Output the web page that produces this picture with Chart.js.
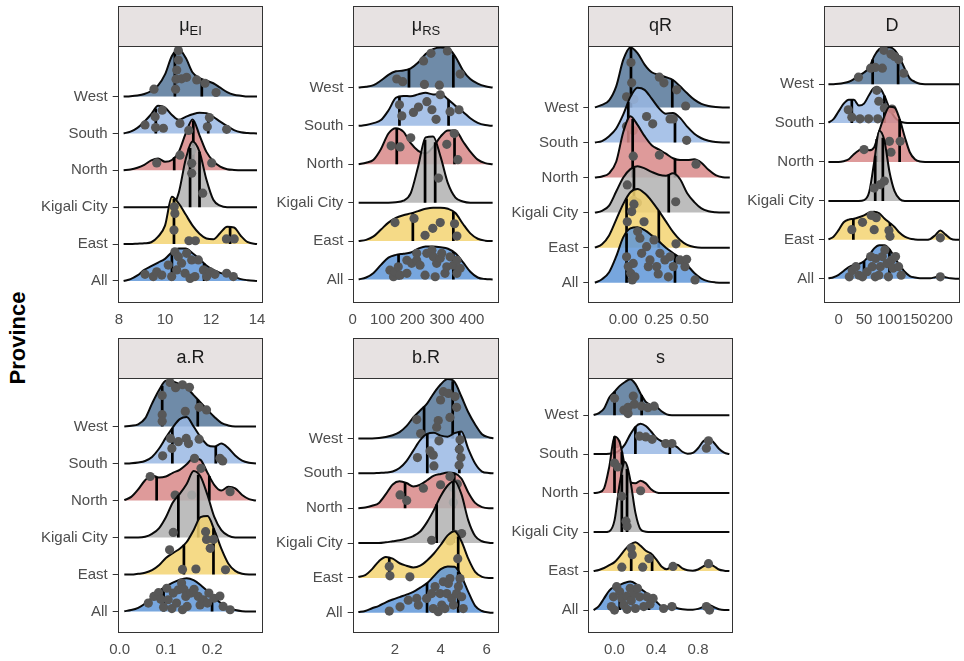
<!DOCTYPE html>
<html>
<head>
<meta charset="utf-8">
<script src="https://cdn.jsdelivr.net/npm/chart.js@4.4.0/dist/chart.umd.min.js"></script>
<style>
  body { margin: 0; background: #fff; width: 964px; height: 661px; overflow: hidden; position: relative; font-family: "Liberation Sans", Arial, sans-serif; }
  canvas { position: absolute; left: 0; top: 0; }
  #ylab { position: absolute; left: 18px; top: 338px; transform: translate(-50%, -50%) rotate(-90deg); font-weight: bold; font-size: 22px; color: #000; white-space: nowrap; }
</style>
</head>
<body>
<div id="ylab">Province</div>
<script>
// rows from bottom to top
const provinces = ['All', 'East', 'Kigali City', 'North', 'South', 'West']

// ---- mu_EI ----
const muEI_grid = [8.2, 8.5, 8.8, 9.1, 9.4, 9.7, 10.0, 10.3, 10.6, 10.9, 11.2, 11.5, 11.8, 12.1, 12.4, 12.7, 13.0, 13.3, 13.6, 14.0]
const muEI_dens = {
  'West':        [0, 0.01, 0.03, 0.07, 0.15, 0.3, 0.6, 1.1, 1.28, 1.05, 0.65, 0.5, 0.43, 0.36, 0.24, 0.12, 0.05, 0.02, 0, 0],
  'South':       [0, 0.05, 0.15, 0.32, 0.52, 0.75, 0.7, 0.5, 0.37, 0.45, 0.52, 0.56, 0.55, 0.45, 0.32, 0.2, 0.09, 0.03, 0.01, 0],
  'North':       [0, 0.02, 0.07, 0.15, 0.27, 0.32, 0.23, 0.28, 0.5, 1.0, 1.38, 0.95, 0.5, 0.25, 0.1, 0.03, 0.01, 0, 0, 0],
  'Kigali City': [0, 0, 0, 0, 0, 0, 0, 0.02, 0.4, 1.3, 1.78, 1.5, 0.75, 0.2, 0.04, 0, 0, 0, 0, 0],
  'East':        [0, 0, 0.01, 0.02, 0.05, 0.2, 0.5, 1.28, 1.1, 0.8, 0.5, 0.28, 0.15, 0.13, 0.3, 0.47, 0.45, 0.22, 0.05, 0],
  'All':         [0, 0.05, 0.15, 0.3, 0.4, 0.5, 0.6, 0.78, 0.88, 0.88, 0.75, 0.6, 0.42, 0.3, 0.22, 0.18, 0.12, 0.05, 0.02, 0],
}
const muEI_quant = {
  'West': [10.43, 11.6], 'South': [9.6, 11.88], 'North': [10.4, 11.23],
  'Kigali City': [11.09, 11.5], 'East': [10.39, 12.83], 'All': [10.3, 11.7],
}
const muEI_pts = {
  'West': [[9.52, 0.2], [10.46, 0.2], [10.48, 0.47], [10.51, 0.72], [10.58, 0.99], [10.58, 1.25], [10.72, 0.48], [10.94, 0.52], [11.38, 0.45], [11.74, 0.36], [12.22, 0.11]],
  'South': [[9.13, 0.23], [9.57, 0.45], [9.59, 0.16], [9.88, 0.63], [9.93, 0.14], [10.65, 0.27], [11.84, 0.18], [11.93, 0.43], [12.68, 0.11]],
  'North': [[9.64, 0.2], [10.65, 0.41], [11.03, 1.08], [11.16, 0.54], [12.03, 0.2]],
  'Kigali City': [[11.16, 1.19], [11.16, 0.92], [11.64, 0.38]],
  'East': [[10.4, 1.01], [10.43, 0.83], [10.39, 0.38], [11.04, 0.09], [11.32, 0.09], [12.67, 0.14], [13.01, 0.14]],
  'All': [[9.13, 0.18], [9.49, 0.12], [9.64, 0.25], [9.86, 0.16], [10.14, 0.43], [10.29, 0.12], [10.43, 0.79], [10.51, 0.3], [10.58, 0.66], [10.72, 0.48], [10.87, 0.21], [10.94, 0.75], [11.09, 0.07], [11.16, 0.57], [11.3, 0.12], [11.45, 0.57], [11.67, 0.3], [11.81, 0.12], [11.96, 0.25], [12.17, 0.18], [12.68, 0.21], [12.97, 0.12]],
}
const muEI_xticks = [8, 10, 12, 14]

// ---- mu_RS ----
const muRS_grid = [20, 45, 70, 95, 120, 145, 170, 195, 220, 245, 270, 295, 320, 345, 370, 395, 420, 445, 470]
const muRS_dens = {
  'West':        [0, 0.02, 0.06, 0.18, 0.33, 0.42, 0.44, 0.5, 0.65, 0.87, 1.0, 1.04, 1.02, 0.8, 0.45, 0.22, 0.1, 0.03, 0],
  'South':       [0, 0.02, 0.07, 0.15, 0.4, 0.73, 0.78, 0.77, 0.82, 0.86, 0.82, 0.83, 0.69, 0.52, 0.37, 0.2, 0.08, 0.02, 0],
  'North':       [0, 0.04, 0.12, 0.4, 0.8, 0.94, 0.85, 0.55, 0.35, 0.28, 0.45, 0.72, 0.88, 0.88, 0.6, 0.33, 0.12, 0.03, 0],
  'Kigali City': [0, 0, 0, 0, 0, 0.01, 0.05, 0.25, 0.95, 1.7, 1.72, 1.2, 0.5, 0.13, 0.03, 0, 0, 0, 0],
  'East':        [0, 0.03, 0.12, 0.3, 0.48, 0.6, 0.67, 0.72, 0.78, 0.84, 0.87, 0.87, 0.84, 0.73, 0.45, 0.2, 0.06, 0.01, 0],
  'All':         [0, 0.05, 0.17, 0.38, 0.57, 0.64, 0.67, 0.7, 0.8, 0.86, 0.86, 0.84, 0.8, 0.68, 0.45, 0.2, 0.05, 0.01, 0],
}
const muRS_quant = {
  'West': [189, 338], 'South': [157, 322], 'North': [148, 342],
  'Kigali City': [243, 277], 'East': [202, 338], 'All': [154, 338],
}
const muRS_pts = {
  'West': [[148, 0.22], [168, 0.15], [238, 0.69], [263, 0.89], [318, 0.95], [361, 0.35], [241, 0.08], [291, 0.06]],
  'South': [[157, 0.55], [165, 0.26], [204, 0.35], [221, 0.49], [249, 0.63], [266, 0.42], [280, 0.17], [294, 0.81], [327, 0.37], [357, 0.42]],
  'North': [[129, 0.48], [159, 0.45], [195, 0.69], [316, 0.52], [341, 0.8], [353, 0.12]],
  'Kigali City': [[288, 0.64]],
  'East': [[142, 0.48], [206, 0.59], [243, 0.15], [269, 0.33], [294, 0.48], [342, 0.45], [350, 0.13]],
  'All': [[125, 0.24], [137, 0.07], [142, 0.2], [153, 0.33], [159, 0.11], [182, 0.5], [182, 0.16], [198, 0.42], [215, 0.68], [215, 0.5], [226, 0.37], [243, 0.11], [249, 0.68], [266, 0.76], [271, 0.59], [277, 0.07], [282, 0.42], [294, 0.55], [299, 0.68], [310, 0.16], [316, 0.33], [327, 0.59], [338, 0.37], [350, 0.5], [350, 0.16], [361, 0.29]],
}
const muRS_xticks = [0, 100, 200, 300, 400]

// ---- qR ----
const qR_grid = [-0.2, -0.15, -0.1, -0.05, 0, 0.05, 0.1, 0.15, 0.2, 0.25, 0.3, 0.35, 0.4, 0.45, 0.5, 0.55, 0.6, 0.65, 0.7, 0.75]
const qR_dens = {
  'West':        [0, 0.07, 0.2, 0.6, 1.36, 1.71, 1.55, 1.22, 1.0, 0.93, 0.86, 0.78, 0.6, 0.4, 0.22, 0.1, 0.04, 0.01, 0, 0],
  'South':       [0, 0.04, 0.18, 0.4, 0.8, 1.3, 1.56, 1.5, 1.25, 0.98, 0.82, 0.84, 0.7, 0.45, 0.25, 0.12, 0.05, 0.01, 0, 0],
  'North':       [0, 0.03, 0.12, 0.45, 1.3, 1.75, 1.5, 1.18, 0.92, 0.8, 0.68, 0.55, 0.5, 0.5, 0.52, 0.42, 0.22, 0.07, 0.01, 0],
  'Kigali City': [0, 0.05, 0.2, 0.6, 1.0, 1.24, 1.32, 1.26, 1.16, 1.08, 1.05, 1.12, 0.95, 0.55, 0.3, 0.12, 0.04, 0.01, 0, 0],
  'East':        [0, 0.1, 0.35, 0.8, 1.25, 1.58, 1.67, 1.55, 1.33, 1.05, 0.75, 0.45, 0.22, 0.08, 0.02, 0, 0, 0, 0, 0],
  'All':         [0, 0.1, 0.3, 0.75, 1.3, 1.55, 1.58, 1.5, 1.35, 1.18, 1.0, 0.85, 0.7, 0.5, 0.28, 0.12, 0.04, 0.01, 0, 0],
}
const qR_quant = {
  'West': [0.054, 0.345], 'South': [0.035, 0.364], 'North': [0.066, 0.364],
  'Kigali City': [0.075, 0.32], 'East': [0.023, 0.25], 'All': [0.023, 0.364],
}
const qR_pts = {
  'West': [[0.054, 1.28], [0.059, 0.7], [0.023, 0.3], [0.075, 0.23], [0.254, 0.86], [0.286, 0.7], [0.376, 0.5], [0.439, 0.04]],
  'South': [[0.023, 0.46], [0.07, 0.34], [0.164, 0.74], [0.207, 0.53], [0.329, 0.67], [0.352, 0.67], [0.446, 0.06]],
  'North': [[0.07, 0.61], [0.254, 0.64], [0.512, 0.38]],
  'Kigali City': [[0.028, 0.79], [0.07, 0.35], [0.099, 0.28], [0.369, 0.31]],
  'East': [[0.075, 1.24], [0.059, 1.03], [0.028, 0.74], [0.146, 0.74], [0.371, 0.11]],
  'All': [[0.023, 0.74], [0.035, 0.46], [0.052, 0.27], [0.063, 0.08], [0.07, 0.55], [0.082, 0.17], [0.101, 1.46], [0.117, 1.27], [0.129, 0.84], [0.164, 1.03], [0.176, 0.46], [0.188, 0.65], [0.216, 1.22], [0.235, 0.46], [0.246, 0.25], [0.258, 0.84], [0.293, 0.65], [0.317, 0.17], [0.329, 0.74], [0.352, 0.46], [0.399, 0.65], [0.434, 0.46], [0.446, 0.67], [0.505, 0.08]],
}
const qR_xticks = [0, 0.25, 0.5]

// ---- D ----
const D_grid = [-20, -10, 0, 10, 20, 30, 40, 50, 60, 70, 80, 90, 100, 110, 120, 130, 140, 150, 160, 170, 180, 190, 200, 210, 220, 230, 240]
const D_dens = {
  'West':        [0, 0, 0.01, 0.03, 0.06, 0.13, 0.22, 0.3, 0.42, 0.72, 0.9, 0.94, 0.95, 0.88, 0.68, 0.4, 0.15, 0.06, 0.01, 0, 0, 0, 0, 0, 0, 0, 0],
  'South':       [0.01, 0.1, 0.3, 0.5, 0.6, 0.6, 0.45, 0.5, 0.72, 0.9, 0.9, 0.7, 0.38, 0.15, 0.04, 0.01, 0, 0, 0, 0, 0, 0, 0, 0, 0, 0, 0],
  'North':       [0, 0, 0, 0.02, 0.07, 0.2, 0.3, 0.36, 0.3, 0.38, 0.8, 1.18, 1.42, 1.4, 1.1, 0.65, 0.25, 0.07, 0.01, 0, 0, 0, 0, 0, 0, 0, 0],
  'Kigali City': [0, 0, 0, 0, 0, 0, 0, 0.02, 0.22, 1.0, 1.8, 1.55, 0.75, 0.25, 0.05, 0, 0, 0, 0, 0, 0, 0, 0, 0, 0, 0, 0],
  'East':        [0.01, 0.08, 0.25, 0.45, 0.52, 0.54, 0.58, 0.63, 0.7, 0.72, 0.68, 0.55, 0.44, 0.33, 0.18, 0.08, 0.03, 0.01, 0, 0, 0.02, 0.12, 0.24, 0.14, 0.03, 0, 0],
  'All':         [0.01, 0.04, 0.1, 0.2, 0.3, 0.35, 0.38, 0.45, 0.6, 0.78, 0.86, 0.86, 0.76, 0.55, 0.35, 0.18, 0.07, 0.03, 0.01, 0.01, 0.01, 0.04, 0.07, 0.04, 0.01, 0, 0],
}
const D_quant = {
  'West': [67, 117], 'South': [26, 90], 'North': [75, 120],
  'Kigali City': [72, 87], 'East': [29, 101], 'All': [50, 100],
}
const D_pts = {
  'West': [[39, 0.18], [63, 0.41], [72, 0.43], [86, 0.41], [89, 0.87], [103, 0.77], [110, 0.71], [118, 0.63], [128, 0.28]],
  'South': [[19, 0.34], [26, 0.15], [42, 0.11], [59, 0.11], [77, 0.11], [75, 0.84], [79, 0.56], [90, 0.39], [105, 0.36]],
  'North': [[50, 0.32], [100, 0.53], [103, 0.25], [121, 0.53]],
  'Kigali City': [[70, 0.33], [82, 0.42], [90, 0.51]],
  'East': [[26, 0.26], [47, 0.45], [64, 0.63], [74, 0.57], [70, 0.26], [99, 0.24], [101, 0.09], [200, 0.05]],
  'All': [[21, 0.05], [27, 0.21], [34, 0.31], [40, 0.09], [47, 0.05], [56, 0.18], [63, 0.57], [66, 0.31], [72, 0.05], [73, 0.52], [79, 0.09], [82, 0.31], [86, 0.57], [91, 0.74], [95, 0.39], [98, 0.05], [104, 0.48], [107, 0.27], [112, 0.57], [118, 0.31], [123, 0.09], [200, 0.05]],
}
const D_xticks = [0, 50, 100, 150, 200]

// ---- a.R ----
const aR_grid = [0.01, 0.025, 0.04, 0.055, 0.07, 0.085, 0.1, 0.115, 0.13, 0.145, 0.16, 0.175, 0.19, 0.205, 0.22, 0.235, 0.25, 0.265, 0.28, 0.295]
const aR_dens = {
  'West':        [0, 0.02, 0.06, 0.22, 0.62, 0.98, 1.24, 1.22, 1.14, 1.05, 0.85, 0.65, 0.45, 0.26, 0.1, 0.03, 0, 0, 0, 0],
  'South':       [0, 0.01, 0.03, 0.07, 0.18, 0.4, 0.7, 0.98, 1.2, 1.26, 1.0, 0.72, 0.5, 0.46, 0.54, 0.42, 0.22, 0.08, 0.02, 0],
  'North':       [0.01, 0.1, 0.3, 0.55, 0.68, 0.62, 0.65, 0.75, 0.83, 0.98, 1.15, 1.1, 0.75, 0.42, 0.27, 0.37, 0.33, 0.15, 0.04, 0],
  'Kigali City': [0, 0, 0, 0.02, 0.1, 0.25, 0.55, 0.95, 1.18, 1.45, 1.8, 1.65, 1.15, 0.55, 0.2, 0.05, 0, 0, 0, 0],
  'East':        [0, 0, 0.02, 0.05, 0.12, 0.25, 0.45, 0.58, 0.7, 0.88, 1.2, 1.55, 1.58, 1.2, 0.7, 0.3, 0.1, 0.02, 0, 0],
  'All':         [0.01, 0.04, 0.1, 0.22, 0.38, 0.55, 0.68, 0.78, 0.86, 0.9, 0.85, 0.72, 0.55, 0.38, 0.22, 0.1, 0.04, 0.01, 0, 0],
}
const aR_quant = {
  'West': [0.092, 0.169], 'South': [0.114, 0.208], 'North': [0.08, 0.194],
  'Kigali City': [0.127, 0.17], 'East': [0.139, 0.203], 'All': [0.095, 0.2],
}
const aR_pts = {
  'West': [[0.092, 0.84], [0.092, 0.32], [0.092, 0.14], [0.109, 1.19], [0.121, 1.05], [0.136, 1.13], [0.142, 0.41], [0.151, 1.06], [0.172, 0.52], [0.188, 0.45]],
  'South': [[0.093, 0.21], [0.11, 0.68], [0.113, 0.41], [0.127, 0.59], [0.144, 0.68], [0.149, 0.54], [0.172, 0.66], [0.217, 0.14], [0.223, 0.07]],
  'North': [[0.066, 0.65], [0.162, 1.14], [0.176, 0.87], [0.12, 0.15], [0.156, 0.15], [0.239, 0.24]],
  'Kigali City': [[0.116, 0.14]],
  'East': [[0.186, 1.16], [0.188, 0.95], [0.203, 0.95], [0.196, 0.71], [0.108, 0.67], [0.136, 0.14], [0.165, 0.15], [0.229, 0.13]],
  'All': [[0.062, 0.23], [0.074, 0.41], [0.084, 0.51], [0.089, 0.33], [0.095, 0.12], [0.102, 0.63], [0.105, 0.32], [0.113, 0.08], [0.116, 0.5], [0.123, 0.23], [0.127, 0.59], [0.134, 0.77], [0.136, 0.05], [0.139, 0.6], [0.143, 0.41], [0.146, 0.14], [0.154, 0.5], [0.161, 0.6], [0.17, 0.41], [0.174, 0.18], [0.181, 0.32], [0.19, 0.23], [0.193, 0.5], [0.204, 0.36], [0.217, 0.42], [0.224, 0.14], [0.239, 0.05]],
}
const aR_xticks = [0, 0.1, 0.2]

// ---- b.R ----
const bR_grid = [0.4, 0.7, 1.0, 1.3, 1.6, 1.9, 2.2, 2.5, 2.8, 3.1, 3.4, 3.7, 4.0, 4.3, 4.6, 4.9, 5.2, 5.5, 5.8, 6.1, 6.3]
const bR_dens = {
  'West':        [0, 0, 0, 0.01, 0.04, 0.09, 0.18, 0.35, 0.6, 0.8, 1.0, 1.3, 1.55, 1.7, 1.62, 1.2, 0.75, 0.4, 0.12, 0.03, 0],
  'South':       [0, 0, 0, 0.01, 0.02, 0.05, 0.15, 0.35, 0.65, 0.95, 1.13, 1.16, 1.08, 1.05, 1.15, 1.2, 0.7, 0.28, 0.05, 0.01, 0],
  'North':       [0, 0.02, 0.07, 0.15, 0.4, 0.68, 0.77, 0.72, 0.62, 0.67, 0.8, 0.93, 0.98, 1.02, 1.0, 0.85, 0.45, 0.15, 0.03, 0, 0],
  'Kigali City': [0, 0, 0, 0, 0.02, 0.05, 0.08, 0.13, 0.2, 0.33, 0.6, 0.95, 1.35, 1.65, 1.78, 1.4, 0.65, 0.2, 0.05, 0.01, 0],
  'East':        [0.03, 0.08, 0.25, 0.48, 0.6, 0.55, 0.42, 0.35, 0.3, 0.35, 0.5, 0.7, 0.95, 1.22, 1.34, 1.05, 0.55, 0.17, 0.03, 0, 0],
  'All':         [0.02, 0.05, 0.13, 0.2, 0.3, 0.38, 0.45, 0.52, 0.6, 0.72, 0.85, 1.05, 1.25, 1.33, 1.32, 1.05, 0.6, 0.2, 0.05, 0.01, 0],
}
const bR_quant = {
  'West': [3.27, 4.52], 'South': [3.41, 4.81], 'North': [2.44, 4.59],
  'Kigali City': [3.82, 4.55], 'East': [1.75, 4.76], 'All': [3.4, 4.76],
}
const bR_pts = {
  'West': [[2.95, 0.54], [3.12, 0.14], [3.82, 0.32], [3.89, 0.51], [3.99, 1.1], [4.11, 1.34], [4.33, 1.29], [4.4, 0.6], [4.62, 1.2], [4.69, 0.89]],
  'South': [[2.98, 0.45], [3.53, 0.64], [3.67, 0.52], [3.92, 0.93], [3.7, 0.21], [4.84, 0.96], [4.81, 0.69], [4.88, 0.45], [4.8, 0.23]],
  'North': [[2.22, 0.38], [2.51, 0.22], [3.24, 0.57], [3.99, 0.67], [4.4, 0.91], [4.52, 0.6], [4.55, 0.17], [4.72, 0.69]],
  'Kigali City': [[3.6, 0.08], [4.4, 0.06], [4.62, 0.25], [4.91, 0.27]],
  'East': [[1.75, 0.33], [1.78, 0.06], [2.65, 0.03], [4.74, 0.55]],
  'All': [[1.75, 0.05], [2.22, 0.17], [2.58, 0.36], [2.95, 0.41], [3.02, 0.22], [3.38, 0.41], [3.6, 0.55], [3.67, 0.12], [3.75, 0.75], [3.89, 0.03], [3.97, 0.55], [4.04, 0.22], [4.11, 0.89], [4.18, 0.12], [4.26, 0.55], [4.33, 0.84], [4.4, 0.98], [4.48, 0.41], [4.55, 0.22], [4.69, 0.55], [4.77, 0.75], [4.84, 0.98], [4.91, 0.46], [4.98, 0.12]],
}
const bR_xticks = [2, 4, 6]

// ---- s ----
const s_grid = [-0.2, -0.15, -0.1, -0.05, 0, 0.05, 0.1, 0.15, 0.2, 0.25, 0.3, 0.35, 0.4, 0.45, 0.5, 0.55, 0.6, 0.65, 0.7, 0.75, 0.8, 0.85, 0.9, 0.95, 1.0, 1.05, 1.1]
const s_dens = {
  'West':        [0, 0.05, 0.17, 0.45, 0.6, 0.75, 0.85, 0.92, 0.8, 0.55, 0.34, 0.26, 0.22, 0.1, 0.02, 0, 0, 0, 0, 0, 0, 0, 0, 0, 0, 0, 0],
  'South':       [0, 0, 0, 0.01, 0.03, 0.1, 0.25, 0.5, 0.7, 0.78, 0.72, 0.58, 0.42, 0.33, 0.28, 0.25, 0.18, 0.06, 0.01, 0.03, 0.15, 0.33, 0.4, 0.3, 0.14, 0.04, 0],
  'North':       [0, 0.02, 0.12, 0.68, 1.45, 1.3, 0.7, 0.28, 0.25, 0.32, 0.25, 0.1, 0.02, 0, 0, 0, 0, 0, 0, 0, 0, 0, 0, 0, 0, 0, 0],
  'Kigali City': [0, 0, 0, 0.02, 0.3, 1.25, 1.8, 1.35, 0.5, 0.07, 0.01, 0, 0, 0, 0, 0, 0, 0, 0, 0, 0, 0, 0, 0, 0, 0, 0],
  'East':        [0, 0.03, 0.08, 0.15, 0.23, 0.38, 0.55, 0.68, 0.74, 0.65, 0.52, 0.45, 0.3, 0.12, 0.05, 0.12, 0.16, 0.07, 0.02, 0.01, 0.04, 0.12, 0.19, 0.13, 0.04, 0.01, 0],
  'All':         [0, 0.1, 0.3, 0.5, 0.6, 0.65, 0.7, 0.73, 0.68, 0.55, 0.45, 0.35, 0.22, 0.1, 0.08, 0.12, 0.05, 0.02, 0.01, 0.01, 0.03, 0.08, 0.13, 0.08, 0.02, 0, 0],
}
const s_quant = {
  'West': [0.0, 0.26], 'South': [0.2, 0.53], 'North': [0.0, 0.07],
  'Kigali City': [0.07, 0.12], 'East': [0.16, 0.36], 'All': [0.05, 0.33],
}
const s_pts = {
  'West': [[0.0, 0.43], [0.09, 0.13], [0.13, 0.04], [0.13, 0.2], [0.18, 0.49], [0.19, 0.28], [0.26, 0.23], [0.32, 0.19], [0.38, 0.23]],
  'South': [[0.02, 0.27], [0.24, 0.46], [0.3, 0.44], [0.36, 0.38], [0.49, 0.27], [0.55, 0.27], [0.9, 0.34], [0.88, 0.15]],
  'North': [[0.0, 0.77], [0.03, 0.67], [0.25, 0.06]],
  'Kigali City': [[0.07, 0.92], [0.11, 0.28], [0.12, 0.15]],
  'East': [[0.07, 0.1], [0.16, 0.59], [0.17, 0.42], [0.27, 0.1], [0.33, 0.32], [0.56, 0.12], [0.9, 0.19]],
  'All': [[-0.03, 0.09], [-0.01, 0.34], [0.0, 0.0], [0.02, 0.6], [0.05, 0.47], [0.07, 0.3], [0.09, 0.13], [0.12, 0.36], [0.12, 0.02], [0.15, 0.56], [0.16, 0.24], [0.19, 0.43], [0.2, 0.04], [0.22, 0.56], [0.24, 0.34], [0.28, 0.09], [0.31, 0.34], [0.34, 0.15], [0.37, 0.3], [0.47, 0.04], [0.55, 0.09], [0.88, 0.09], [0.91, 0.0]],
}
const s_xticks = [0, 0.4, 0.8]

// ---- styling / layout ----
const fills = {
  'West': 'rgba(86,119,153,0.85)',
  'South': 'rgba(154,184,228,0.85)',
  'North': 'rgba(216,136,136,0.85)',
  'Kigali City': 'rgba(178,178,178,0.85)',
  'East': 'rgba(243,211,114,0.85)',
  'All': 'rgba(95,151,216,0.85)',
}
const FONT = '"Liberation Sans", Arial, Helvetica, sans-serif'
const AX_W = 100
const AX_H = 30
const STRIP_H = 40

const panels = [
  { main: 'μ', sub: 'EI', grid: muEI_grid, dens: muEI_dens, quant: muEI_quant, pts: muEI_pts, xticks: muEI_xticks, dec: 0,
    xmin: 7.943, xmax: 14.217, ymin: -0.57, ymax: 6.37, box: [117.7, 262, 46, 302] },
  { main: 'μ', sub: 'RS', grid: muRS_grid, dens: muRS_dens, quant: muRS_quant, pts: muRS_pts, xticks: muRS_xticks, dec: 0,
    xmin: 2, xmax: 487, ymin: -0.58, ymax: 6.08, box: [353.3, 497.7, 46, 301.7] },
  { main: 'qR', grid: qR_grid, dens: qR_dens, quant: qR_quant, pts: qR_pts, xticks: qR_xticks, dec: 2,
    xmin: -0.2465, xmax: 0.7676, ymin: -0.54, ymax: 6.75, box: [588.3, 732.3, 46, 301.7] },
  { main: 'D', grid: D_grid, dens: D_dens, quant: D_quant, pts: D_pts, xticks: D_xticks, dec: 0,
    xmin: -28.7, xmax: 237.5, ymin: -0.59, ymax: 5.98, box: [824, 963, 46, 301.7] },
  { main: 'a.R', grid: aR_grid, dens: aR_dens, quant: aR_quant, pts: aR_pts, xticks: aR_xticks, dec: 1,
    xmin: -0.0043, xmax: 0.3087, ymin: -0.56, ymax: 6.32, box: [117.7, 262.3, 377.7, 632.3] },
  { main: 'b.R', grid: bR_grid, dens: bR_dens, quant: bR_quant, pts: bR_pts, xticks: bR_xticks, dec: 0,
    xmin: 0.153, xmax: 6.485, ymin: -0.56, ymax: 6.74, box: [352.7, 497.7, 377.7, 632.3] },
  { main: 's', grid: s_grid, dens: s_dens, quant: s_quant, pts: s_pts, xticks: s_xticks, dec: 1,
    xmin: -0.251, xmax: 1.128, ymin: -0.57, ymax: 5.96, box: [588.3, 732.3, 377.7, 632.3] },
]

// height of a ridge at x
const heightAt = (grid, dens, x) => {
  for (let i = 1; i < grid.length; i++) {
    if (x <= grid[i]) {
      const t = (x - grid[i - 1]) / (grid[i] - grid[i - 1])
      return dens[i - 1] + t * (dens[i] - dens[i - 1])
    }
  }
  return 0
}

const panelFrame = {
  id: 'panelFrame',
  afterDraw(chart, args, opts) {
    const { ctx, chartArea: a } = chart
    const l = Math.round(a.left) + 0.5, t = Math.round(a.top) + 0.5
    const w = Math.round(a.right) - Math.round(a.left), h = Math.round(a.bottom) - Math.round(a.top)
    ctx.save()
    ctx.fillStyle = '#E7E2E2'
    ctx.fillRect(l, t - STRIP_H, w, STRIP_H)
    ctx.strokeStyle = '#333333'
    ctx.lineWidth = 1
    ctx.strokeRect(l, t - STRIP_H, w, STRIP_H)
    ctx.strokeRect(l, t, w, h)
    // strip label, with optional subscript
    ctx.fillStyle = '#1a1a1a'
    ctx.textBaseline = 'middle'
    ctx.font = `18px ${FONT}`
    const mw = ctx.measureText(opts.main).width
    ctx.font = `13px ${FONT}`
    const sw = opts.sub ? ctx.measureText(opts.sub).width : 0
    const x0 = l + w / 2 - (mw + sw) / 2
    const cy = t - STRIP_H / 2
    ctx.font = `18px ${FONT}`
    ctx.fillText(opts.main, x0, cy)
    if (opts.sub) {
      ctx.font = `13px ${FONT}`
      ctx.fillText(opts.sub, x0 + mw, cy + 5)
    }
    ctx.restore()
  },
}

const drawPanel = (p) => {
  const cv = document.createElement('canvas')
  cv.width = 964
  cv.height = 661
  document.body.appendChild(cv)

  const datasets = []
  provinces.forEach((prov, base) => {
    const d = 5 - base // West drawn first, All last
    const dens = p.dens[prov]
    datasets.push({
      data: p.grid.map((x, i) => ({ x, y: base + dens[i] })),
      borderColor: '#0a0a0a', borderWidth: 2, backgroundColor: fills[prov],
      fill: { value: base }, pointRadius: 0, cubicInterpolationMode: 'monotone',
      order: 100 - d * 10,
    })
    p.quant[prov].forEach(q => {
      datasets.push({
        data: [{ x: q, y: base }, { x: q, y: base + heightAt(p.grid, dens, q) }],
        borderColor: '#000', borderWidth: 2.7, pointRadius: 0, fill: false,
        order: 99 - d * 10,
      })
    })
    datasets.push({
      data: p.pts[prov].map(([x, h]) => ({ x, y: base + h })),
      showLine: false, pointRadius: 4.6, pointBackgroundColor: '#575757',
      pointBorderWidth: 0, pointHoverRadius: 0,
      order: 98 - d * 10,
    })
  })

  const [L, R, T, B] = p.box
  new Chart(cv, {
    type: 'line',
    data: { datasets },
    plugins: [panelFrame],
    options: {
      responsive: false, animation: false, devicePixelRatio: 1,
      events: [],
      layout: { padding: { left: L - AX_W, right: 964 - R, top: T, bottom: 661 - B - AX_H } },
      plugins: { legend: { display: false }, tooltip: { enabled: false }, panelFrame: { main: p.main, sub: p.sub } },
      scales: {
        x: {
          type: 'linear', min: p.xmin, max: p.xmax,
          afterFit: s => { s.height = AX_H },
          afterBuildTicks: s => { s.ticks = p.xticks.map(v => ({ value: v })) },
          ticks: { callback: v => Number(v).toFixed(p.dec), color: '#4d4d4d', font: { size: 15, family: FONT },
                   padding: 9, autoSkip: false, maxRotation: 0, minRotation: 0 },
          grid: { display: false, drawTicks: false },
          border: { display: false },
        },
        y: {
          type: 'linear', min: p.ymin, max: p.ymax,
          afterFit: s => { s.width = AX_W },
          afterBuildTicks: s => { s.ticks = provinces.map((_, i) => ({ value: i })) },
          ticks: { callback: v => provinces[v], color: '#4d4d4d', font: { size: 15, family: FONT }, padding: 5, autoSkip: false },
          grid: { display: true, drawOnChartArea: false, drawTicks: true, tickLength: 5, color: '#333333' },
          border: { display: false },
        },
      },
    },
  })
}

panels.forEach(drawPanel)
</script>
</body>
</html>
